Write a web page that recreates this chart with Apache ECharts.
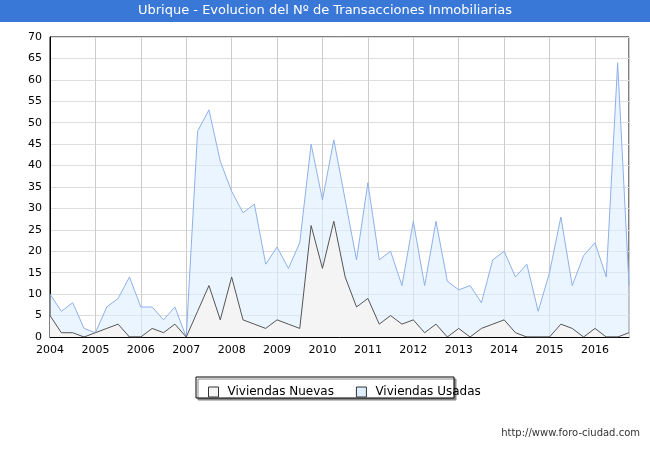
<!DOCTYPE html>
<html><head><meta charset="utf-8">
<script src="https://cdn.jsdelivr.net/npm/echarts@6/dist/echarts.min.js"></script>
<style>html,body{margin:0;padding:0;background:#fff}#c{width:650px;height:450px}</style>
</head><body><div id="c"></div>
<script>
const startYear = 2004;
const nuevas = [5,1,1,0, 1,2,3,0, 0,2,1,3, 0,6,12,4, 14,4,3,2, 4,3,2,26, 16,27,14,7, 9,3,5,3, 4,1,3,0, 2,0,2,3, 4,1,0,0, 0,3,2,0, 2,0,0,1];
const usadas = [10,6,8,2, 1,7,9,14, 7,7,4,7, 0,48,53,41, 34,29,31,17, 21,16,22,45, 32,46,32,18, 36,18,20,12, 27,12,27,13, 11,12,8,18, 20,14,17,6, 15,28,12,19, 22,14,64,12];
const toPts = a => a.map((v,i)=>[startYear + i*0.25, v]);
const chart = echarts.init(document.getElementById('c'));
chart.setOption({
  animation:false,
  graphic:[
    {type:'rect',shape:{x:0,y:0,width:650,height:22},style:{fill:'#3a78d8'}},
    {type:'text',left:'center',top:4,style:{text:'Ubrique - Evolucion del Nº de Transacciones Inmobiliarias',fill:'#fff',font:'13px Verdana, "DejaVu Sans", sans-serif'}},
    {type:'text',right:10,top:428,style:{text:'http://www.foro-ciudad.com',fill:'#333',font:'10px "DejaVu Sans", sans-serif'}},
    {type:'rect',z:-1,shape:{x:196,y:377,width:258,height:21},style:{fill:'#fff',stroke:'#000',lineWidth:1,shadowColor:'#888',shadowOffsetX:2,shadowOffsetY:2}}
  ],
  legend:{top:381,left:203,itemGap:22,itemWidth:10,itemHeight:10,
    textStyle:{fontSize:12,fontFamily:'"DejaVu Sans", sans-serif',color:'#000',padding:[0,0,0,4]},
    data:[{name:'Viviendas Nuevas',icon:'rect',itemStyle:{color:'#f4f4f4',borderColor:'#333',borderWidth:1}},
          {name:'Viviendas Usadas',icon:'rect',itemStyle:{color:'#ddeeff',borderColor:'#333',borderWidth:1}}]},
  grid:{left:50,right:21,top:37,bottom:113,show:true,borderColor:'#000',borderWidth:1},
  xAxis:{type:'value',min:2004,max:2016.75,interval:1,
    axisLine:{lineStyle:{color:'#000'}},axisTick:{show:false},
    axisLabel:{color:'#000',fontSize:11,fontFamily:'"DejaVu Sans", sans-serif',formatter:v=>Number.isInteger(v)?String(v):''},
    splitLine:{show:true,lineStyle:{color:'#cccccc'}}},
  yAxis:{type:'value',min:0,max:70,interval:5,
    axisLine:{show:true,lineStyle:{color:'#000'}},axisTick:{show:false},
    axisLabel:{color:'#000',fontSize:11,fontFamily:'"DejaVu Sans", sans-serif'},
    splitLine:{lineStyle:{color:'#dddddd'}}},
  series:[
    {name:'Viviendas Usadas',type:'line',data:toPts(usadas),symbol:'none',z:2,
     lineStyle:{color:'#8eb0ea',width:1},itemStyle:{color:'#ddeeff'},areaStyle:{color:'rgba(221,238,255,0.85)'}},
    {name:'Viviendas Nuevas',type:'line',data:toPts(nuevas),symbol:'none',z:3,
     lineStyle:{color:'#555',width:1},itemStyle:{color:'#f4f4f4'},areaStyle:{color:'#f4f4f4',opacity:1}}
  ]
});
</script></body></html>
